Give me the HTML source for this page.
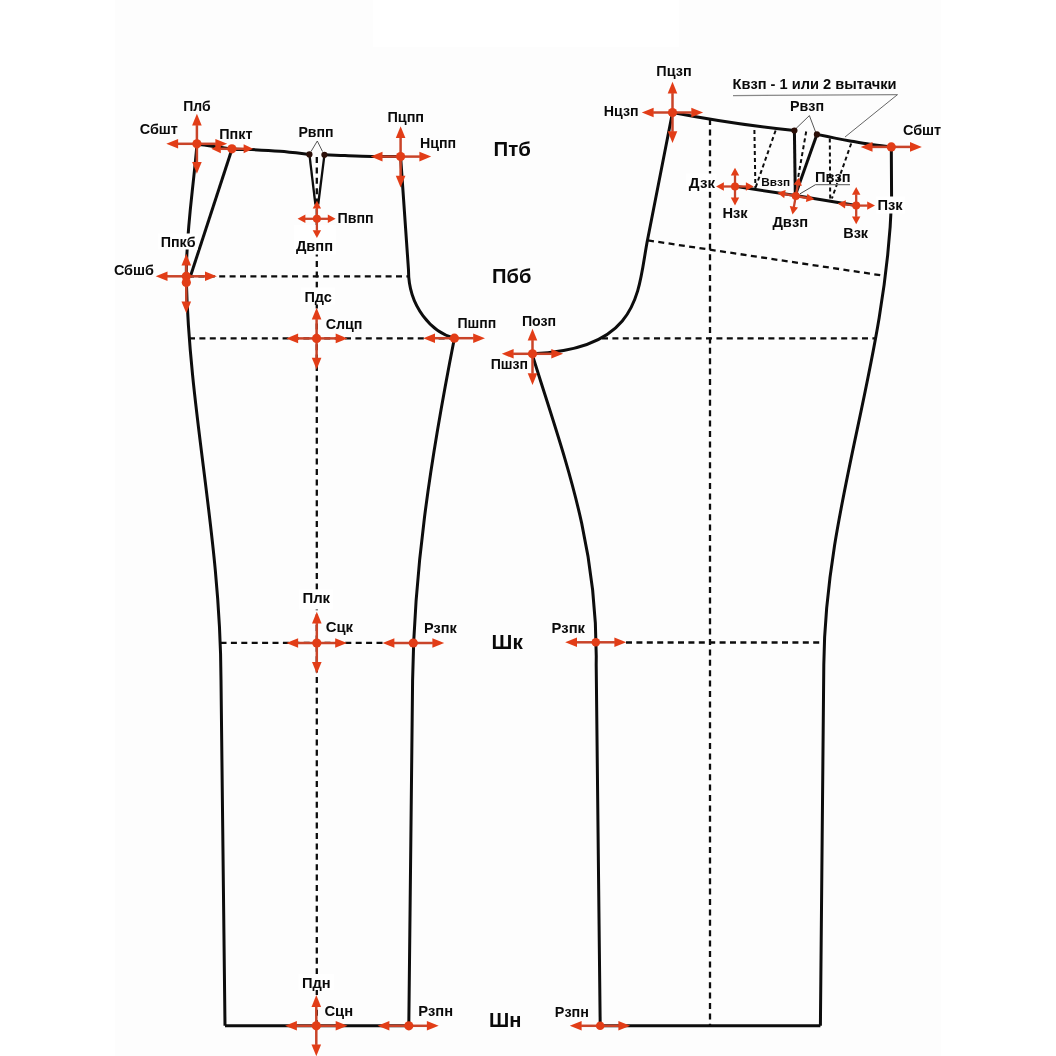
<!DOCTYPE html>
<html><head><meta charset="utf-8"><style>
html,body{margin:0;padding:0;background:#fff;overflow:hidden;}
svg{display:block;will-change:transform;}
</style></head><body>
<svg width="1056" height="1056" viewBox="0 0 1056 1056">
<rect x="0" y="0" width="1056" height="1056" fill="#fff"/>
<rect x="115" y="0" width="826" height="1056" fill="#fdfdfd"/>
<rect x="373" y="0" width="306" height="47" fill="#fff"/>
<line x1="188" y1="276.3" x2="408.5" y2="276.3" stroke="#0d0d0d" stroke-width="2.3" stroke-dasharray="6 4.4"/>
<line x1="189" y1="338.3" x2="454" y2="338.3" stroke="#0d0d0d" stroke-width="2.3" stroke-dasharray="6 4.4"/>
<line x1="220.5" y1="642.8" x2="383" y2="642.8" stroke="#0d0d0d" stroke-width="2.3" stroke-dasharray="6 4.4"/>
<line x1="316.8" y1="157" x2="316.8" y2="1025" stroke="#0d0d0d" stroke-width="2.3" stroke-dasharray="6 4.4"/>
<line x1="710" y1="119" x2="710" y2="1025" stroke="#0d0d0d" stroke-width="2.3" stroke-dasharray="6 4.4"/>
<line x1="648" y1="240.4" x2="885.8" y2="276" stroke="#0d0d0d" stroke-width="2.3" stroke-dasharray="6 4.4"/>
<line x1="602" y1="338.4" x2="875" y2="338.4" stroke="#0d0d0d" stroke-width="2.3" stroke-dasharray="6 4.4"/>
<line x1="626" y1="642.5" x2="824.3" y2="642.5" stroke="#0d0d0d" stroke-width="2.3" stroke-dasharray="6 4.4"/>
<line x1="754.4" y1="130" x2="755.4" y2="188" stroke="#0d0d0d" stroke-width="2" stroke-dasharray="4 3"/>
<line x1="775.6" y1="130.5" x2="755.6" y2="187.5" stroke="#0d0d0d" stroke-width="2" stroke-dasharray="4 3"/>
<line x1="806.2" y1="131.5" x2="797.5" y2="181" stroke="#0d0d0d" stroke-width="2" stroke-dasharray="4 3"/>
<line x1="829.8" y1="138.5" x2="830.2" y2="199" stroke="#0d0d0d" stroke-width="2" stroke-dasharray="4 3"/>
<line x1="851.2" y1="143.5" x2="831.9" y2="198.5" stroke="#0d0d0d" stroke-width="2" stroke-dasharray="4 3"/>
<path d="M197,144 C202.83,144.83 222.83,148.07 232,149 C241.17,149.93 244.00,149.22 252,149.6 C260.00,149.98 270.43,150.52 280,151.3 C289.57,152.08 304.50,153.80 309.4,154.3" fill="none" stroke="#0d0d0d" stroke-width="3" stroke-linejoin="round"/>
<path d="M324.4,154.8 C327.83,154.93 337.07,155.33 345,155.6 C352.93,155.87 362.73,156.23 372,156.4 C381.27,156.57 395.83,156.57 400.6,156.6" fill="none" stroke="#0d0d0d" stroke-width="3" stroke-linejoin="round"/>
<path d="M309.4,154.4 L315.4,204.5" fill="none" stroke="#0d0d0d" stroke-width="2.3" stroke-linejoin="round"/>
<path d="M324.4,154.8 L318.2,204.5" fill="none" stroke="#0d0d0d" stroke-width="2.3" stroke-linejoin="round"/>
<path d="M197,144 C192.7,195.5 185.7,232.9 186.3,280 C189.8,417.9 220.5,536.3 221,680 L225,1025.8" fill="none" stroke="#0d0d0d" stroke-width="3" stroke-linejoin="round"/>
<path d="M232,149 L190.2,277" fill="none" stroke="#0d0d0d" stroke-width="3" stroke-linejoin="round"/>
<path d="M400.6,156.6 L408.5,270 C408.4,306.9 432.1,332.7 454.5,338.1" fill="none" stroke="#0d0d0d" stroke-width="3" stroke-linejoin="round"/>
<path d="M454.4,338.3 C428.9,467.9 414.1,572.1 412.6,680 L408.8,1025.8" fill="none" stroke="#0d0d0d" stroke-width="3" stroke-linejoin="round"/>
<path d="M225,1025.8 L408.8,1025.8" fill="none" stroke="#0d0d0d" stroke-width="3" stroke-linejoin="round"/>
<path d="M672.5,112.5 Q735,124.4 794.4,130.6" fill="none" stroke="#0d0d0d" stroke-width="3" stroke-linejoin="round"/>
<path d="M816.9,134.4 C819.92,135.02 829.48,137.02 835,138.1 C840.52,139.18 844.17,139.87 850,140.9 C855.83,141.93 863.12,143.30 870,144.3 C876.88,145.30 887.75,146.47 891.3,146.9" fill="none" stroke="#0d0d0d" stroke-width="3" stroke-linejoin="round"/>
<path d="M794.4,130.6 L795.3,195.5" fill="none" stroke="#0d0d0d" stroke-width="3" stroke-linejoin="round"/>
<path d="M816.9,134.4 L796.3,192.5" fill="none" stroke="#0d0d0d" stroke-width="3" stroke-linejoin="round"/>
<path d="M735,186.3 L795.6,195.6 L856.3,205.6" fill="none" stroke="#0d0d0d" stroke-width="3" stroke-linejoin="round"/>
<path d="M672.5,112.5 L647.5,240 C637.8,289.2 642.4,349.6 532.5,353.8" fill="none" stroke="#0d0d0d" stroke-width="3" stroke-linejoin="round"/>
<path d="M532,353.8 C564.8,459.4 598,543.7 596.2,665 L600.2,1025.8" fill="none" stroke="#0d0d0d" stroke-width="3" stroke-linejoin="round"/>
<path d="M600.2,1025.8 L820.4,1025.8" fill="none" stroke="#0d0d0d" stroke-width="3" stroke-linejoin="round"/>
<path d="M891.3,146.9 L891.6,200 C885.7,367 825.1,505.2 823.8,665 L820.4,1025.8" fill="none" stroke="#0d0d0d" stroke-width="3" stroke-linejoin="round"/>
<line x1="317.3" y1="141" x2="311" y2="151.5" stroke="#444" stroke-width="0.9"/>
<line x1="317.3" y1="141" x2="322.5" y2="151.5" stroke="#444" stroke-width="0.9"/>
<line x1="809.4" y1="115.6" x2="796" y2="128.5" stroke="#444" stroke-width="0.9"/>
<line x1="809.4" y1="115.6" x2="815.6" y2="132" stroke="#444" stroke-width="0.9"/>
<line x1="733" y1="95.6" x2="897.5" y2="94.6" stroke="#888" stroke-width="1.1"/>
<line x1="897.5" y1="94.6" x2="845" y2="137" stroke="#666" stroke-width="1"/>
<line x1="815.6" y1="184.6" x2="850" y2="184.6" stroke="#777" stroke-width="1.2"/>
<line x1="815.6" y1="184.6" x2="800" y2="193.8" stroke="#333" stroke-width="0.9"/>
<circle cx="309.4" cy="154.4" r="3.1" fill="#2b0f08"/><circle cx="324.4" cy="154.8" r="3.1" fill="#2b0f08"/>
<circle cx="794.4" cy="130.6" r="3.1" fill="#2b0f08"/><circle cx="816.9" cy="134.4" r="3.1" fill="#2b0f08"/>
<rect x="294" y="225" width="42" height="29.5" fill="#fff"/>
<rect x="158" y="233.5" width="40" height="16.0" fill="#fff"/>
<rect x="301" y="287.5" width="34" height="17.0" fill="#fff"/>
<rect x="299" y="589.5" width="34" height="20.0" fill="#fff"/>
<rect x="298.5" y="974" width="35.5" height="16" fill="#fff"/>
<rect x="686" y="173.5" width="30.5" height="18.0" fill="#fff"/>
<rect x="876" y="196.5" width="29" height="17.0" fill="#fff"/>
<line x1="196.9" y1="143.8" x2="177.60" y2="143.80" stroke="#c94429" stroke-width="2.5"/><polygon points="166.30,143.80 178.10,139.00 178.10,148.60" fill="#e23d17"/><line x1="196.9" y1="143.8" x2="215.90" y2="143.80" stroke="#c94429" stroke-width="2.5"/><polygon points="227.20,143.80 215.40,148.60 215.40,139.00" fill="#e23d17"/><line x1="196.9" y1="143.8" x2="196.90" y2="125.10" stroke="#c94429" stroke-width="2.5"/><polygon points="196.90,113.80 201.70,125.60 192.10,125.60" fill="#e23d17"/><line x1="196.9" y1="143.8" x2="196.90" y2="162.40" stroke="#c94429" stroke-width="2.5"/><polygon points="196.90,173.70 192.10,161.90 201.70,161.90" fill="#e23d17"/><circle cx="196.9" cy="143.8" r="4.6" fill="#e23d17"/>
<line x1="231.9" y1="148.8" x2="220.30" y2="148.80" stroke="#c94429" stroke-width="2.5"/><polygon points="211.30,148.80 220.80,144.30 220.80,153.30" fill="#e23d17"/><line x1="231.9" y1="148.8" x2="244.10" y2="148.80" stroke="#c94429" stroke-width="2.5"/><polygon points="253.10,148.80 243.60,153.30 243.60,144.30" fill="#e23d17"/><circle cx="231.9" cy="148.8" r="4.6" fill="#e23d17"/>
<line x1="186.3" y1="276.3" x2="167.00" y2="276.30" stroke="#c94429" stroke-width="2.5"/><polygon points="155.70,276.30 167.50,271.50 167.50,281.10" fill="#e23d17"/><line x1="186.3" y1="276.3" x2="205.50" y2="276.30" stroke="#c94429" stroke-width="2.5"/><polygon points="216.80,276.30 205.00,281.10 205.00,271.50" fill="#e23d17"/><line x1="186.3" y1="276.3" x2="186.30" y2="265.10" stroke="#c94429" stroke-width="2.5"/><polygon points="186.30,253.80 191.10,265.60 181.50,265.60" fill="#e23d17"/><circle cx="186.3" cy="276.3" r="4.6" fill="#e23d17"/>
<line x1="186.3" y1="282.5" x2="186.30" y2="301.90" stroke="#c94429" stroke-width="2.5"/><polygon points="186.30,313.20 181.50,301.40 191.10,301.40" fill="#e23d17"/><circle cx="186.3" cy="282.5" r="4.6" fill="#e23d17"/>
<line x1="400.6" y1="156.6" x2="382.00" y2="156.60" stroke="#c94429" stroke-width="2.5"/><polygon points="370.70,156.60 382.50,151.80 382.50,161.40" fill="#e23d17"/><line x1="400.6" y1="156.6" x2="419.90" y2="156.60" stroke="#c94429" stroke-width="2.5"/><polygon points="431.20,156.60 419.40,161.40 419.40,151.80" fill="#e23d17"/><line x1="400.6" y1="156.6" x2="400.60" y2="137.60" stroke="#c94429" stroke-width="2.5"/><polygon points="400.60,126.30 405.40,138.10 395.80,138.10" fill="#e23d17"/><line x1="400.6" y1="156.6" x2="400.60" y2="176.20" stroke="#c94429" stroke-width="2.5"/><polygon points="400.60,187.50 395.80,175.70 405.40,175.70" fill="#e23d17"/><circle cx="400.6" cy="156.6" r="4.6" fill="#e23d17"/>
<line x1="316.9" y1="218.8" x2="304.90" y2="218.80" stroke="#c94429" stroke-width="2.3"/><polygon points="297.60,218.80 305.40,214.60 305.40,223.00" fill="#e23d17"/><line x1="316.9" y1="218.8" x2="328.30" y2="218.80" stroke="#c94429" stroke-width="2.3"/><polygon points="335.60,218.80 327.80,223.00 327.80,214.60" fill="#e23d17"/><line x1="316.9" y1="218.8" x2="316.90" y2="208.00" stroke="#c94429" stroke-width="2.3"/><polygon points="316.90,200.70 321.10,208.50 312.70,208.50" fill="#e23d17"/><line x1="316.9" y1="218.8" x2="316.90" y2="230.80" stroke="#c94429" stroke-width="2.3"/><polygon points="316.90,238.10 312.70,230.30 321.10,230.30" fill="#e23d17"/><circle cx="316.9" cy="218.8" r="4" fill="#e23d17"/>
<line x1="316.6" y1="338.4" x2="297.60" y2="338.40" stroke="#c94429" stroke-width="2.5"/><polygon points="286.30,338.40 298.10,333.60 298.10,343.20" fill="#e23d17"/><line x1="316.6" y1="338.4" x2="336.20" y2="338.40" stroke="#c94429" stroke-width="2.5"/><polygon points="347.50,338.40 335.70,343.20 335.70,333.60" fill="#e23d17"/><line x1="316.6" y1="338.4" x2="316.60" y2="319.10" stroke="#c94429" stroke-width="2.5"/><polygon points="316.60,307.80 321.40,319.60 311.80,319.60" fill="#e23d17"/><line x1="316.6" y1="338.4" x2="316.60" y2="358.30" stroke="#c94429" stroke-width="2.5"/><polygon points="316.60,369.60 311.80,357.80 321.40,357.80" fill="#e23d17"/><circle cx="316.6" cy="338.4" r="4.6" fill="#e23d17"/>
<line x1="454.4" y1="338.2" x2="434.50" y2="338.20" stroke="#c94429" stroke-width="2.5"/><polygon points="423.20,338.20 435.00,333.40 435.00,343.00" fill="#e23d17"/><line x1="454.4" y1="338.2" x2="473.70" y2="338.20" stroke="#c94429" stroke-width="2.5"/><polygon points="485.00,338.20 473.20,343.00 473.20,333.40" fill="#e23d17"/><circle cx="454.4" cy="338.2" r="4.6" fill="#e23d17"/>
<line x1="316.8" y1="643" x2="297.60" y2="643.00" stroke="#c94429" stroke-width="2.5"/><polygon points="286.30,643.00 298.10,638.20 298.10,647.80" fill="#e23d17"/><line x1="316.8" y1="643" x2="335.70" y2="643.00" stroke="#c94429" stroke-width="2.5"/><polygon points="347.00,643.00 335.20,647.80 335.20,638.20" fill="#e23d17"/><line x1="316.8" y1="643" x2="316.80" y2="623.10" stroke="#c94429" stroke-width="2.5"/><polygon points="316.80,611.80 321.60,623.60 312.00,623.60" fill="#e23d17"/><line x1="316.8" y1="643" x2="316.80" y2="662.40" stroke="#c94429" stroke-width="2.5"/><polygon points="316.80,673.70 312.00,661.90 321.60,661.90" fill="#e23d17"/><circle cx="316.8" cy="643" r="4.6" fill="#e23d17"/>
<line x1="413.3" y1="643" x2="393.90" y2="643.00" stroke="#c94429" stroke-width="2.5"/><polygon points="382.60,643.00 394.40,638.20 394.40,647.80" fill="#e23d17"/><line x1="413.3" y1="643" x2="432.90" y2="643.00" stroke="#c94429" stroke-width="2.5"/><polygon points="444.20,643.00 432.40,647.80 432.40,638.20" fill="#e23d17"/><circle cx="413.3" cy="643" r="4.6" fill="#e23d17"/>
<line x1="316.3" y1="1025.8" x2="296.40" y2="1025.80" stroke="#c94429" stroke-width="2.5"/><polygon points="285.10,1025.80 296.90,1021.00 296.90,1030.60" fill="#e23d17"/><line x1="316.3" y1="1025.8" x2="336.20" y2="1025.80" stroke="#c94429" stroke-width="2.5"/><polygon points="347.50,1025.80 335.70,1030.60 335.70,1021.00" fill="#e23d17"/><line x1="316.3" y1="1025.8" x2="316.30" y2="1006.40" stroke="#c94429" stroke-width="2.5"/><polygon points="316.30,995.10 321.10,1006.90 311.50,1006.90" fill="#e23d17"/><line x1="316.3" y1="1025.8" x2="316.30" y2="1044.90" stroke="#c94429" stroke-width="2.5"/><polygon points="316.30,1056.20 311.50,1044.40 321.10,1044.40" fill="#e23d17"/><circle cx="316.3" cy="1025.8" r="4.6" fill="#e23d17"/>
<line x1="408.8" y1="1025.8" x2="388.90" y2="1025.80" stroke="#c94429" stroke-width="2.5"/><polygon points="377.60,1025.80 389.40,1021.00 389.40,1030.60" fill="#e23d17"/><line x1="408.8" y1="1025.8" x2="427.40" y2="1025.80" stroke="#c94429" stroke-width="2.5"/><polygon points="438.70,1025.80 426.90,1030.60 426.90,1021.00" fill="#e23d17"/><circle cx="408.8" cy="1025.8" r="4.6" fill="#e23d17"/>
<line x1="672.5" y1="112.5" x2="653.10" y2="112.50" stroke="#c94429" stroke-width="2.5"/><polygon points="641.80,112.50 653.60,107.70 653.60,117.30" fill="#e23d17"/><line x1="672.5" y1="112.5" x2="691.80" y2="112.50" stroke="#c94429" stroke-width="2.5"/><polygon points="703.10,112.50 691.30,117.30 691.30,107.70" fill="#e23d17"/><line x1="672.5" y1="112.5" x2="672.50" y2="93.10" stroke="#c94429" stroke-width="2.5"/><polygon points="672.50,81.80 677.30,93.60 667.70,93.60" fill="#e23d17"/><line x1="672.5" y1="112.5" x2="672.50" y2="131.80" stroke="#c94429" stroke-width="2.5"/><polygon points="672.50,143.10 667.70,131.30 677.30,131.30" fill="#e23d17"/><circle cx="672.5" cy="112.5" r="4.6" fill="#e23d17"/>
<line x1="891.3" y1="146.9" x2="872.00" y2="146.90" stroke="#c94429" stroke-width="2.5"/><polygon points="860.70,146.90 872.50,142.10 872.50,151.70" fill="#e23d17"/><line x1="891.3" y1="146.9" x2="910.50" y2="146.90" stroke="#c94429" stroke-width="2.5"/><polygon points="921.80,146.90 910.00,151.70 910.00,142.10" fill="#e23d17"/><circle cx="891.3" cy="146.9" r="4.6" fill="#e23d17"/>
<line x1="735" y1="186.5" x2="723.40" y2="186.50" stroke="#c94429" stroke-width="2.3"/><polygon points="716.10,186.50 723.90,182.30 723.90,190.70" fill="#e23d17"/><line x1="735" y1="186.5" x2="746.40" y2="186.50" stroke="#c94429" stroke-width="2.3"/><polygon points="753.70,186.50 745.90,190.70 745.90,182.30" fill="#e23d17"/><line x1="735" y1="186.5" x2="735.00" y2="175.10" stroke="#c94429" stroke-width="2.3"/><polygon points="735.00,167.80 739.20,175.60 730.80,175.60" fill="#e23d17"/><line x1="735" y1="186.5" x2="735.00" y2="198.10" stroke="#c94429" stroke-width="2.3"/><polygon points="735.00,205.40 730.80,197.60 739.20,197.60" fill="#e23d17"/><circle cx="735" cy="186.5" r="4" fill="#e23d17"/>
<line x1="795.8" y1="196" x2="784.47" y2="194.00" stroke="#c94429" stroke-width="2.3"/><polygon points="777.29,192.74 785.70,189.95 784.24,198.23" fill="#e23d17"/><line x1="795.8" y1="196" x2="807.13" y2="198.00" stroke="#c94429" stroke-width="2.3"/><polygon points="814.31,199.26 805.90,202.05 807.36,193.77" fill="#e23d17"/><line x1="795.8" y1="196" x2="797.80" y2="184.67" stroke="#c94429" stroke-width="2.3"/><polygon points="799.06,177.49 801.85,185.90 793.57,184.44" fill="#e23d17"/><line x1="795.8" y1="196" x2="793.80" y2="207.33" stroke="#c94429" stroke-width="2.3"/><polygon points="792.54,214.51 789.75,206.10 798.03,207.56" fill="#e23d17"/><circle cx="795.8" cy="196" r="4" fill="#e23d17"/>
<line x1="856.2" y1="205.6" x2="844.96" y2="204.37" stroke="#c94429" stroke-width="2.3"/><polygon points="837.71,203.57 845.92,200.25 845.00,208.60" fill="#e23d17"/><line x1="856.2" y1="205.6" x2="867.70" y2="205.60" stroke="#c94429" stroke-width="2.3"/><polygon points="875.00,205.60 867.20,209.80 867.20,201.40" fill="#e23d17"/><line x1="856.2" y1="205.6" x2="856.20" y2="194.30" stroke="#c94429" stroke-width="2.3"/><polygon points="856.20,187.00 860.40,194.80 852.00,194.80" fill="#e23d17"/><line x1="856.2" y1="205.6" x2="856.20" y2="216.90" stroke="#c94429" stroke-width="2.3"/><polygon points="856.20,224.20 852.00,216.40 860.40,216.40" fill="#e23d17"/><circle cx="856.2" cy="205.6" r="4" fill="#e23d17"/>
<line x1="532.5" y1="353.8" x2="513.10" y2="353.80" stroke="#c94429" stroke-width="2.5"/><polygon points="501.80,353.80 513.60,349.00 513.60,358.60" fill="#e23d17"/><line x1="532.5" y1="353.8" x2="551.80" y2="353.80" stroke="#c94429" stroke-width="2.5"/><polygon points="563.10,353.80 551.30,358.60 551.30,349.00" fill="#e23d17"/><line x1="532.5" y1="353.8" x2="532.50" y2="340.10" stroke="#c94429" stroke-width="2.5"/><polygon points="532.50,328.80 537.30,340.60 527.70,340.60" fill="#e23d17"/><line x1="532.5" y1="353.8" x2="532.50" y2="373.70" stroke="#c94429" stroke-width="2.5"/><polygon points="532.50,385.00 527.70,373.20 537.30,373.20" fill="#e23d17"/><circle cx="532.5" cy="353.8" r="4.6" fill="#e23d17"/>
<line x1="595.8" y1="642.3" x2="576.50" y2="642.30" stroke="#c94429" stroke-width="2.5"/><polygon points="565.20,642.30 577.00,637.50 577.00,647.10" fill="#e23d17"/><line x1="595.8" y1="642.3" x2="614.90" y2="642.30" stroke="#c94429" stroke-width="2.5"/><polygon points="626.20,642.30 614.40,647.10 614.40,637.50" fill="#e23d17"/><circle cx="595.8" cy="642.3" r="4.3" fill="#e23d17"/>
<line x1="600.2" y1="1025.8" x2="581.10" y2="1025.80" stroke="#c94429" stroke-width="2.5"/><polygon points="569.80,1025.80 581.60,1021.00 581.60,1030.60" fill="#e23d17"/><line x1="600.2" y1="1025.8" x2="618.90" y2="1025.80" stroke="#c94429" stroke-width="2.5"/><polygon points="630.20,1025.80 618.40,1030.60 618.40,1021.00" fill="#e23d17"/><circle cx="600.2" cy="1025.8" r="4.3" fill="#e23d17"/>
<g font-family="Liberation Sans, sans-serif" font-weight="bold" fill="#0a0a0a">
<text x="183.20" y="111.30" font-size="14.5" textLength="27.40" lengthAdjust="spacingAndGlyphs">Плб</text>
<text x="139.70" y="133.80" font-size="14.5" textLength="38.20" lengthAdjust="spacingAndGlyphs">Сбшт</text>
<text x="219.20" y="139.40" font-size="14.5" textLength="33.30" lengthAdjust="spacingAndGlyphs">Ппкт</text>
<text x="298.40" y="136.60" font-size="14.5" textLength="35.20" lengthAdjust="spacingAndGlyphs">Рвпп</text>
<text x="387.40" y="121.90" font-size="14.5" textLength="36.70" lengthAdjust="spacingAndGlyphs">Пцпп</text>
<text x="420.00" y="148.10" font-size="14.5" textLength="36.20" lengthAdjust="spacingAndGlyphs">Нцпп</text>
<text x="337.40" y="223.10" font-size="14.5" textLength="36.20" lengthAdjust="spacingAndGlyphs">Пвпп</text>
<text x="295.90" y="251.30" font-size="14.5" textLength="37.20" lengthAdjust="spacingAndGlyphs">Двпп</text>
<text x="160.70" y="247.00" font-size="14.5" textLength="34.90" lengthAdjust="spacingAndGlyphs">Ппкб</text>
<text x="113.90" y="275.00" font-size="14.5" textLength="40.00" lengthAdjust="spacingAndGlyphs">Сбшб</text>
<text x="304.40" y="302.00" font-size="14.5" textLength="27.50" lengthAdjust="spacingAndGlyphs">Пдс</text>
<text x="325.70" y="329.40" font-size="14.5" textLength="36.80" lengthAdjust="spacingAndGlyphs">Слцп</text>
<text x="457.40" y="327.50" font-size="14.5" textLength="38.80" lengthAdjust="spacingAndGlyphs">Пшпп</text>
<text x="302.40" y="602.50" font-size="14.5" textLength="27.70" lengthAdjust="spacingAndGlyphs">Плк</text>
<text x="325.70" y="632.00" font-size="14.5" textLength="27.40" lengthAdjust="spacingAndGlyphs">Сцк</text>
<text x="423.90" y="632.50" font-size="14.5" textLength="33.00" lengthAdjust="spacingAndGlyphs">Рзпк</text>
<text x="301.90" y="987.50" font-size="14.5" textLength="28.70" lengthAdjust="spacingAndGlyphs">Пдн</text>
<text x="324.40" y="1016.00" font-size="14.5" textLength="28.70" lengthAdjust="spacingAndGlyphs">Сцн</text>
<text x="418.20" y="1016.30" font-size="14.5" textLength="34.90" lengthAdjust="spacingAndGlyphs">Рзпн</text>
<text x="493.60" y="156.10" font-size="20" textLength="37.30" lengthAdjust="spacingAndGlyphs">Птб</text>
<text x="492.10" y="282.50" font-size="20" textLength="39.40" lengthAdjust="spacingAndGlyphs">Пбб</text>
<text x="491.60" y="648.80" font-size="20" textLength="31.20" lengthAdjust="spacingAndGlyphs">Шк</text>
<text x="489.10" y="1026.90" font-size="20" textLength="32.40" lengthAdjust="spacingAndGlyphs">Шн</text>
<text x="656.30" y="76.30" font-size="14.5" textLength="35.30" lengthAdjust="spacingAndGlyphs">Пцзп</text>
<text x="603.80" y="116.30" font-size="14.5" textLength="34.80" lengthAdjust="spacingAndGlyphs">Нцзп</text>
<text x="732.50" y="88.80" font-size="14.5" textLength="164.10" lengthAdjust="spacingAndGlyphs">Квзп - 1 или 2 вытачки</text>
<text x="790.00" y="111.30" font-size="14.5" textLength="34.10" lengthAdjust="spacingAndGlyphs">Рвзп</text>
<text x="902.90" y="135.00" font-size="14.5" textLength="38.30" lengthAdjust="spacingAndGlyphs">Сбшт</text>
<text x="688.80" y="188.10" font-size="14.5" textLength="26.20" lengthAdjust="spacingAndGlyphs">Дзк</text>
<text x="761.30" y="185.60" font-size="11.7" textLength="28.70" lengthAdjust="spacingAndGlyphs">Ввзп</text>
<text x="815.00" y="181.90" font-size="14.5" textLength="35.60" lengthAdjust="spacingAndGlyphs">Пвзп</text>
<text x="722.40" y="217.50" font-size="14.5" textLength="25.20" lengthAdjust="spacingAndGlyphs">Нзк</text>
<text x="772.40" y="227.00" font-size="14.5" textLength="35.70" lengthAdjust="spacingAndGlyphs">Двзп</text>
<text x="877.40" y="210.00" font-size="14.5" textLength="25.20" lengthAdjust="spacingAndGlyphs">Пзк</text>
<text x="843.20" y="237.50" font-size="14.5" textLength="24.90" lengthAdjust="spacingAndGlyphs">Взк</text>
<text x="521.90" y="326.30" font-size="14.5" textLength="34.30" lengthAdjust="spacingAndGlyphs">Позп</text>
<text x="490.70" y="369.40" font-size="14.5" textLength="37.40" lengthAdjust="spacingAndGlyphs">Пшзп</text>
<text x="551.40" y="632.60" font-size="14.5" textLength="33.60" lengthAdjust="spacingAndGlyphs">Рзпк</text>
<text x="554.80" y="1016.50" font-size="14.5" textLength="34.10" lengthAdjust="spacingAndGlyphs">Рзпн</text>
</g>
</svg>
</body></html>
